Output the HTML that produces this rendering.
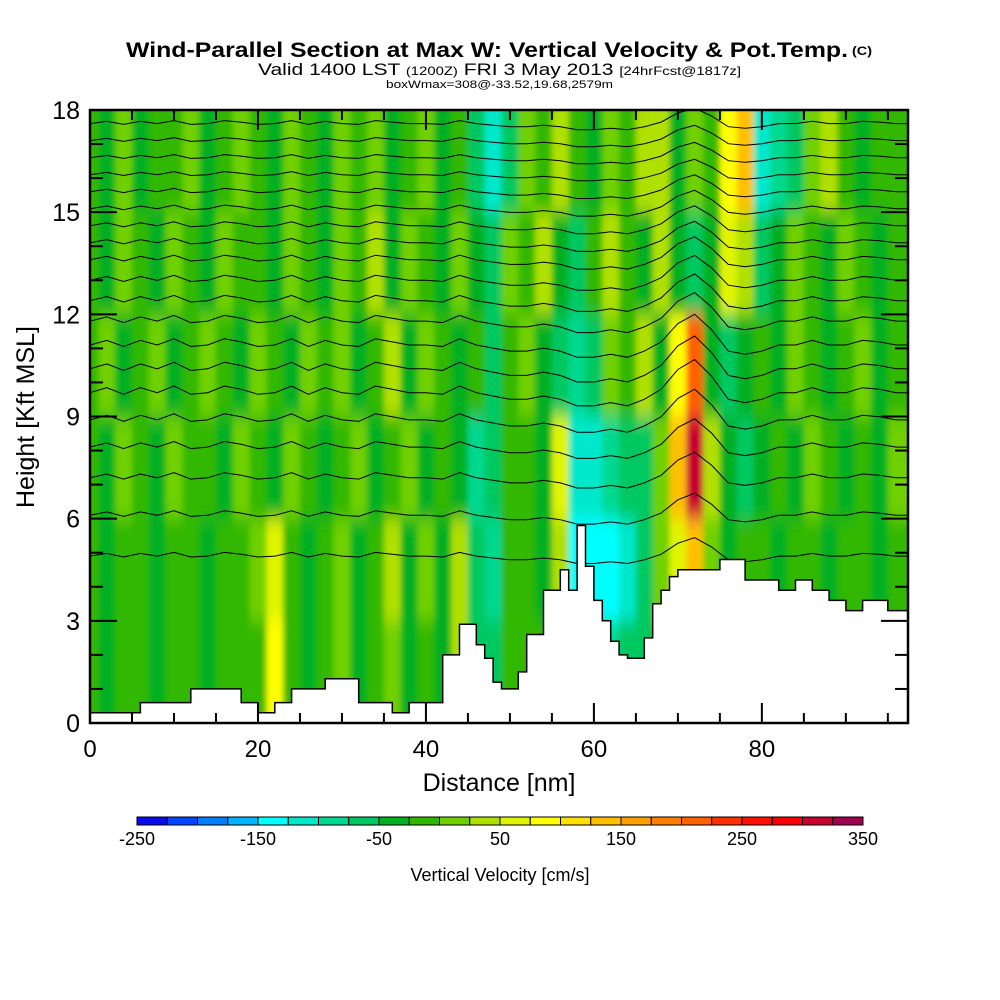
<!DOCTYPE html>
<html><head><meta charset="utf-8"><style>
html,body{margin:0;padding:0;background:#fff;}
svg{display:block;font-family:"Liberation Sans",sans-serif;}
</style></head><body>
<svg id="chart" width="1000" height="1000" viewBox="0 0 1000 1000" xmlns="http://www.w3.org/2000/svg">
<defs>
<clipPath id="plotclip"><rect x="90" y="110" width="818" height="613"/></clipPath>
<filter id="soft" x="-5%" y="-5%" width="110%" height="110%"><feGaussianBlur stdDeviation="3 9"/></filter>
</defs>
<g>
<text x="126" y="57" font-size="21" font-weight="bold" textLength="722" lengthAdjust="spacingAndGlyphs">Wind-Parallel Section at Max W: Vertical Velocity &amp; Pot.Temp.</text>
<text x="852" y="55" font-size="12" font-weight="bold" textLength="20" lengthAdjust="spacingAndGlyphs">(C)</text>
<text x="258" y="75" font-size="17" textLength="483" lengthAdjust="spacingAndGlyphs">Valid 1400 LST <tspan font-size="12">(1200Z)</tspan> FRI 3 May 2013 <tspan font-size="12">[24hrFcst@1817z]</tspan></text>
<text x="386" y="88" font-size="11" textLength="227" lengthAdjust="spacingAndGlyphs">boxWmax=308@-33.52,19.68,2579m</text>
</g>
<g id="plot" clip-path="url(#plotclip)">
<g id="field" filter="url(#soft)"></g>
<g id="contours"></g>
<g id="terrain"></g>
</g>
<rect x="90" y="110" width="818" height="613" fill="none" stroke="#000" stroke-width="2.5"/>
<g id="axes"></g>
<g id="colorbar"></g>
<text x="499" y="791" font-size="25" text-anchor="middle">Distance [nm]</text>
<text transform="translate(34,417) rotate(-90)" font-size="25" text-anchor="middle">Height [Kft MSL]</text>
<text x="500" y="881" font-size="18" text-anchor="middle">Vertical Velocity [cm/s]</text>
</svg>
<script>
// ---- data ----
const colX = [0,2,4,6,8,10,12,14,16,18,20,22,24,26,28,30,32,34,36,38,40,42,44,46,48,50,52,54,56,58,60,62,64,66,68,70,72,74,76,78,80,82,84,86,88,90,92,94,96];
const rowBottoms = [15,12,9,6,3,0];
const w15 = [-15,-35,15,-35,-15,-15,15,-35,-15,15,-15,-35,15,-15,-35,15,-15,15,-35,-15,15,-35,-15,-65,-115,-55,15,-15,35,-15,-35,15,-15,35,45,-35,15,-15,75,145,-125,-85,-55,15,35,-15,-35,-15,-15];
const w12 = [-15,-35,15,-15,-35,15,-15,-35,15,-15,-15,-35,15,-15,-35,15,-15,25,-35,15,-15,-35,15,-45,-65,15,-15,25,-35,-55,-15,35,-15,-35,25,-45,-75,-45,55,35,-55,-45,15,-15,-35,15,-15,-35,-15];
const w9 = [-15,15,-35,-15,15,-35,-15,15,-15,-35,15,-15,-35,15,-15,15,-35,-15,25,-35,15,-15,-35,-15,-55,-15,15,-35,-75,-85,-55,15,-15,35,-35,95,210,-45,-65,-45,-15,-35,15,-15,-35,-15,15,-35,-15];
const w6 = [-15,-35,15,-15,-35,15,-15,-15,-35,15,-15,-35,15,-15,-35,-15,15,-35,-15,15,-35,-15,-45,-85,-65,-15,-15,-35,55,-105,-125,-85,-65,-55,15,125,310,35,-45,-65,-45,-15,-35,15,-15,-35,-15,-35,15];
const w3 = [-15,-35,-15,-15,-35,-15,-15,-35,-15,-15,15,55,-15,-35,-15,15,-35,-15,25,-35,15,-35,35,-65,-85,-15,-15,-35,45,-140,-140,-130,-105,-75,15,55,125,15,-35,-15,-15,-35,-15,-15,-35,-15,-15,-35,-15];
const w0 = [-15,-35,-15,-15,-35,-15,-15,-35,-15,-15,-15,75,-15,-35,-15,15,-35,-15,15,-35,-15,-35,25,-55,-75,-15,-15,-15,-15,-15,-15,-85,-65,-55,-15,-15,-15,-15,-15,-15,-15,-15,-15,-15,-15,-15,-15,-15,-15];
const terrain = [0.3,0.3,0.3,0.3,0.3,0.3,0.6,0.6,0.6,0.6,0.6,0.6,1.0,1.0,1.0,1.0,1.0,1.0,0.6,0.6,0.3,0.3,0.6,0.6,1.0,1.0,1.0,1.0,1.3,1.3,1.3,1.3,0.6,0.6,0.6,0.6,0.3,0.3,0.6,0.6,0.6,0.6,2.0,2.0,2.9,2.9,2.3,1.9,1.2,1.0,1.0,1.5,2.6,2.6,3.9,3.9,4.5,3.9,5.8,4.6,3.6,3.0,2.4,2.0,1.9,1.9,2.5,3.5,3.9,4.3,4.5,4.5,4.5,4.5,4.5,4.8,4.8,4.8,4.2,4.2,4.2,4.2,3.9,3.9,4.2,4.2,3.9,3.9,3.6,3.6,3.3,3.3,3.6,3.6,3.6,3.3,3.3,3.3];
const thetaLevels = [17.6,17.1,16.6,16.1,15.6,15.1,14.6,14.1,13.6,13.0,12.4,11.8,11.1,10.4,9.7,8.9,8.1,7.2,6.1,4.9];
const thetaDisp = [0,0.15,-0.05,0.15,0,0.2,-0.05,0,0.2,0.1,-0.05,0,0.2,-0.05,0.15,0,-0.05,0.2,0.1,0,0,-0.05,0.2,0,-0.1,-0.2,-0.2,-0.1,-0.2,-0.4,-0.4,-0.3,-0.4,-0.2,0.1,0.7,1.0,0.5,-0.2,-0.3,-0.2,0,0,0.15,0,0,0.15,0.1,0];
const cbBounds = [-250,-225,-200,-175,-150,-125,-100,-75,-50,-25,0,25,50,75,100,125,150,175,200,225,250,275,300,325,350];
const cbColors = ["#0a0af0","#0044ff","#0080ff","#00b4ff","#00ffff","#00e8cc","#00d890","#00c860","#00b020","#30b800","#70d000","#b0e000","#e0f400","#ffff00","#ffe000","#ffc000","#ffa000","#ff8000","#ff6000","#ff3000","#ff1000","#ff0000","#c80030","#a00050"];
const cbLabels = [-250,-150,-50,50,150,250,350];
const xTicks = [0,20,40,60,80];
const yTicks = [0,3,6,9,12,15,18];
// ---- scales ----
const X0=90,X1=908,XMAX=97.4,Y0=723,Y1=110,YMAX=18;
const sx = v => X0 + v*(X1-X0)/XMAX;
const sy = v => Y0 - v*(Y0-Y1)/YMAX;
const NS="http://www.w3.org/2000/svg";
function mk(tag, attrs, parent){const e=document.createElementNS(NS,tag);for(const k in attrs)e.setAttribute(k,attrs[k]);parent.appendChild(e);return e;}
function colorOf(v){for(let i=0;i<cbColors.length;i++){if(v<cbBounds[i+1])return cbColors[i];}return cbColors[cbColors.length-1];}
// ---- field ----
const field=document.getElementById('field');
const rows=[w15,w12,w9,w6,w3,w0];
rows.forEach((row,r)=>{
  const b=rowBottoms[r];
  row.forEach((v,c)=>{
    let xa=sx(colX[c]-1), xb=sx(colX[c]+1);
    if(c===0) xa-=30; if(c===row.length-1) xb+=30;
    let ya=sy(b+3), yb=sy(b);
    if(r===0) ya-=40; if(r===rows.length-1) yb+=40;
    const el=mk('rect',{x:xa,y:ya,width:xb-xa+0.5,height:yb-ya+0.5,fill:colorOf(v)},field);
    
    
  });
});
// ---- contours ----
const cont=document.getElementById('contours');
thetaLevels.forEach((lv,i)=>{
  const amp = Math.max(0.45, 1 - Math.abs(lv-10)*0.09);
  let d='';
  colX.forEach((x,c)=>{ d+=(c?'L':'M')+sx(x).toFixed(1)+','+sy(lv+thetaDisp[c]*amp).toFixed(1); });
  d+='L'+sx(98).toFixed(1)+','+sy(lv+thetaDisp[thetaDisp.length-1]*amp).toFixed(1);
  const p=mk('path',{d:d,fill:'none',stroke:'#000','stroke-width':1},cont);
  
  
});
// ---- terrain ----
const ter=document.getElementById('terrain');
let td='M'+sx(0)+','+(Y0+5);
terrain.forEach((h,i)=>{ td+='L'+sx(i).toFixed(1)+','+sy(h).toFixed(1)+'L'+sx(i+1).toFixed(1)+','+sy(h).toFixed(1); });
td+='L'+sx(100)+','+(Y0+5)+'Z';
const tp=mk('path',{d:td,fill:'#fff',stroke:'#000','stroke-width':1.5},ter);


// ---- axes ----
const ax=document.getElementById('axes');
for(let v=0;v<=XMAX;v+=5){
  const major = xTicks.includes(v); const L = major?20:10;
  mk('line',{x1:sx(v),x2:sx(v),y1:Y0,y2:Y0-L,stroke:'#000','stroke-width':2},ax);
  mk('line',{x1:sx(v),x2:sx(v),y1:Y1,y2:Y1+L,stroke:'#000','stroke-width':2},ax);
}
xTicks.forEach(v=>{
  const t=mk('text',{x:sx(v),y:757,'font-size':24,'text-anchor':'middle'},ax);
  t.textContent=v;
  
  
});
for(let v=0;v<=YMAX;v+=1){
  const major = yTicks.includes(v); const L = major?27:13;
  mk('line',{x1:X0,x2:X0+L,y1:sy(v),y2:sy(v),stroke:'#000','stroke-width':2},ax);
  mk('line',{x1:X1,x2:X1-L,y1:sy(v),y2:sy(v),stroke:'#000','stroke-width':2},ax);
}
yTicks.forEach(v=>{
  const t=mk('text',{x:80,y:sy(v)+9,'font-size':25,'text-anchor':'end'},ax);
  t.textContent=v;
  
  
});
// ---- colorbar ----
const cb=document.getElementById('colorbar');
const CB0=137,CB1=863,cbw=(CB1-CB0)/cbColors.length;
cbColors.forEach((c,i)=>{
  const r=mk('rect',{x:CB0+i*cbw,y:817,width:cbw,height:8,fill:c,stroke:'#000','stroke-width':1},cb);
  
  
});
cbLabels.forEach(v=>{
  const t=mk('text',{x:CB0+(v-cbBounds[0])/(cbBounds[cbBounds.length-1]-cbBounds[0])*(CB1-CB0),y:845,'font-size':18,'text-anchor':'middle'},cb);
  t.textContent=v;
  
  
});
</script>
</body></html>
